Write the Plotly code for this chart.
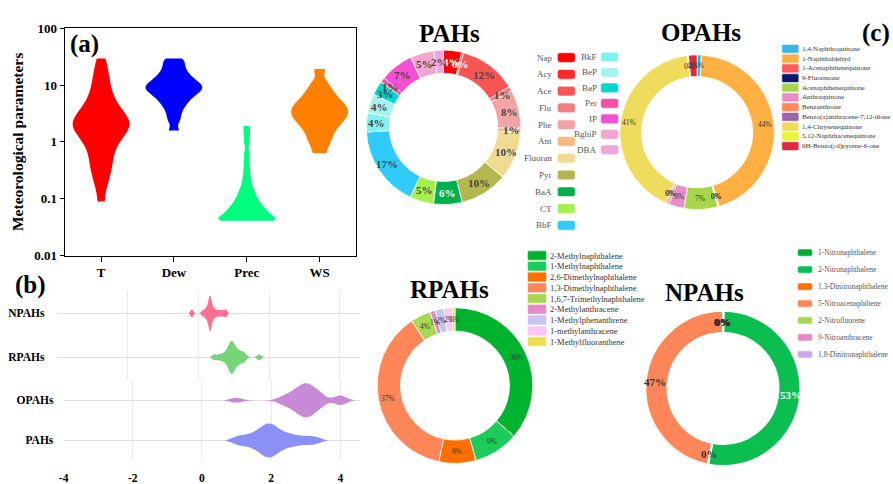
import math
import plotly.graph_objects as go

W, H = 893, 484
SERIF = "Liberation Serif, Times New Roman, serif"


def fx(x):
    return x / W


def fy(y):
    return 1 - y / H


# ---------------- (a) meteorological parameters ----------------
met_params = ["T", "Dew", "Prec", "WS"]
met_colors = ["#ff0000", "#0000ff", "#00ff7f", "#ff8000"]
met_ticks = [0.01, 0.1, 1, 10, 100]
t_values = [0.089, 0.151, 0.209, 0.269, 0.331, 0.398, 0.479, 0.575, 0.676, 0.794, 0.912,
            1.02, 1.15, 1.26, 1.38, 1.51, 1.62, 1.74, 1.86, 2.0, 2.14, 2.29, 2.45, 2.63, 2.82,
            3.09, 3.39, 3.72, 4.17, 4.68, 5.37, 6.31, 7.59, 9.33, 11.7, 15.1, 20.0, 29.5]
dew_values = [1.58, 2.4, 3.16, 3.98, 4.68, 5.37, 6.03, 6.61, 7.24, 7.76, 8.32, 8.91, 9.33,
              10.0, 10.7, 11.5, 12.6, 13.8, 15.5, 17.8, 20.9, 25.1, 29.5]
prec_values = [0.041, 0.041, 0.041, 0.041, 0.041, 0.041, 0.0417, 0.0437, 0.0457, 0.0479,
               0.0501, 0.0525, 0.055, 0.0575, 0.0603, 0.0631, 0.0661, 0.0692, 0.0741, 0.0794,
               0.0851, 0.0912, 0.1, 0.11, 0.123, 0.138, 0.158, 0.191, 0.24, 0.316, 0.437,
               0.631, 1.0, 1.41, 1.9]
ws_values = [0.63, 0.89, 1.12, 1.38, 1.66, 1.91, 2.19, 2.45, 2.69, 2.95, 3.24, 3.55, 3.89,
             4.27, 4.68, 5.25, 6.03, 7.08, 8.51, 11.2, 19.1]
met_bandwidth = [0.13, 0.07, 0.07, 0.09]  # kernel width in decades

# ---------------- (b) log concentrations by group ----------------
group_names = ["NPAHs", "RPAHs", "OPAHs", "PAHs"]
group_colors = ["#ff7090", "#78d478", "#c68ad6", "#8a90f6"]
npahs_log = [-0.2, -0.16, 0.12, 0.18, 0.22, 0.25, 0.28, 0.3, 0.31, 0.32, 0.33, 0.33, 0.34,
             0.35, 0.36, 0.38, 0.4, 0.43, 0.47, 0.52, 0.58, 0.64, 0.7, 0.76, 0.8]
rpahs_log = [0.45, 0.6, 0.72, 0.8, 0.85, 0.88, 0.91, 0.93, 0.95, 0.97, 1.0, 1.03, 1.07, 1.12,
             1.18, 1.25, 1.32, 1.72]
opahs_log = [1.0, 2.3, 2.5, 2.62, 2.72, 2.8, 2.87, 2.93, 2.98, 3.02, 3.07, 3.13, 3.2, 3.28,
             3.37, 3.48, 3.95, 4.05]
pahs_log = [1.0, 1.2, 1.4, 1.55, 1.65, 1.75, 1.82, 1.88, 1.93, 1.98, 2.05, 2.12, 2.2, 2.3,
            2.45, 2.6, 2.8, 3.05, 3.3]
group_bandwidth = [0.035, 0.06, 0.17, 0.16]
group_ticks = [-4, -2, 0, 2, 4]

# ---------------- (c) composition of each group (%) ----------------
pahs_labels = ["Nap", "Acy", "Ace", "Flu", "Phe", "Ant", "Fluoran", "Pyr", "BaA", "CT", "BbF",
               "BkF", "BeP", "BaP", "Per", "IP", "BghiP", "DBA"]
pahs_share = [3.8, 0.4, 12, 1, 8, 1, 10, 10, 6, 5, 17, 4, 4, 3, 1, 7, 5, 2]
pahs_colors = ["#ff0000", "#ff2b2b", "#fa5555", "#f47f7f", "#f2a4a4", "#f4ba82", "#efdc92",
               "#b3b74f", "#00b050", "#a6f04e", "#2fcbfa", "#80f2f2", "#a6f2ee", "#00d6ce",
               "#f54fa8", "#f54fd6", "#f2a6cf", "#f0a6dc"]

opahs_labels = ["1,4-Naphthoquinone", "1-Naphthaldehyd", "1-Acenaphthenequinone", "9-Fluorenone",
                "Acenaphthenequinone", "Anthraquinone", "Benzanthrone",
                "Benzo(a)anthracene-7,12-dione", "1,4-Chrysenequinone",
                "5,12-Naphthacenequinone", "6H-Benzo(cd)pyrene-6-one"]
opahs_share = [0.9, 44.2, 0.2, 0.1, 7.0, 3.2, 0.45, 0.3, 41.0, 0.2, 1.8]
opahs_colors = ["#3db5e6", "#ffb043", "#ff5b5b", "#0b1a6e", "#a7d64b", "#e58fc6", "#ff8a5c",
                "#9a66a8", "#efdb5c", "#e6f52e", "#e0293f"]

rpahs_labels = ["2-Methylnaphthalene", "1-Methylnaphthalene", "2,6-Dimethylnaphthalene",
                "1,3-Dimethylnaphthalene", "1,6,7-Trimethylnaphthalene", "2-Methylanthracene",
                "1-Methylphenanthrene", "1-methylanthracene", "1-Methylfluoranthene"]
rpahs_share = [36.3, 9.4, 7.7, 37.3, 4.2, 1.1, 1.8, 1.7, 0.6]
rpahs_colors = ["#00b32f", "#1ccc5b", "#ff7000", "#ff8658", "#a8d852", "#e38bc8", "#c5c5ef",
                "#ffc4f8", "#eedf52"]

npahs_labels = ["1-Nitronaphthalene", "2-Nitronaphthalene", "1,3-Dinitronaphthalene",
                "5-Nitroacenaphthene", "2-Nitrofluorene", "9-Nitroanthracene",
                "1,8-Dinitronaphthalene"]
npahs_share = [0.2, 52.8, 0.2, 46.8, 0, 0, 0]
npahs_colors = ["#00ab33", "#0abf50", "#ff7000", "#ff8658", "#a8d852", "#e38bc8", "#c6a9ef"]

fig = go.Figure()

# violins of panel (a): kernel density estimated on log10 of the values
for name, vals, col, bw in zip(met_params, [t_values, dew_values, prec_values, ws_values],
                               met_colors, met_bandwidth):
    fig.add_trace(go.Violin(
        x=[name] * len(vals), y=[math.log10(v) for v in vals], orientation="v",
        xaxis="x", yaxis="y",
        line=dict(color=col, width=0), fillcolor=col, width=0.78, scalemode="width",
        spanmode="hard", bandwidth=bw, points=False, box_visible=False,
        meanline_visible=False, showlegend=False, hoverinfo="skip"))

# horizontal violins of panel (b)
group_samples = [npahs_log, rpahs_log, opahs_log, pahs_log]
group_width = [0.81, 0.75, 0.85, 0.85]
group_axes = [("x2", "y2"), ("x2", "y2"), ("x3", "y3"), ("x3", "y3")]
for name, vals, col, bw, wd, (xa, ya) in zip(group_names, group_samples, group_colors,
                                            group_bandwidth, group_width, group_axes):
    fig.add_trace(go.Violin(
        y=[name] * len(vals), x=vals, orientation="h", xaxis=xa, yaxis=ya,
        line=dict(color=col, width=0), fillcolor=col, width=wd, scalemode="width",
        spanmode="soft", bandwidth=bw, points=False, box_visible=False,
        meanline_visible=False, showlegend=False, hoverinfo="skip"))


def donut_domain(cx, cy, r):
    return dict(x=[fx(cx - r), fx(cx + r)], y=[fy(cy + r), fy(cy - r)])


# donut geometry (pixel centre, radius, hole)
PAH_RING = (441, 124.5, 80, 0.7)
OPAH_RING = (696, 129.5, 80, 0.72)
RPAH_RING = (452.5, 391.5, 80.5, 0.7)
NPAH_RING = (722, 394.5, 80, 0.72)

for labels, share, colors, ring, edge in [
        (pahs_labels, pahs_share, pahs_colors, PAH_RING, 0.8),
        (opahs_labels, opahs_share, opahs_colors, OPAH_RING, 0.8),
        (rpahs_labels, rpahs_share, rpahs_colors, RPAH_RING, 0.8),
        (npahs_labels, npahs_share, npahs_colors, NPAH_RING, 1.5)]:
    fig.add_trace(go.Pie(
        labels=labels, values=share,
        marker=dict(colors=colors, line=dict(color="white", width=edge)),
        hole=ring[3], domain=donut_domain(*ring[:3]), sort=False, direction="clockwise",
        textinfo="none", showlegend=False, hoverinfo="skip"))

annotations = []
shapes = []


def contrast(hex_color):
    r, g, b = (int(hex_color[i:i + 2], 16) for i in (1, 3, 5))
    return "white" if (r * 299 + g * 587 + b * 114) / 1000 < 128 else "#444"


def ring_labels(values, ring, size, colors, weight="normal"):
    """Percent label at the middle of each slice, halfway across the ring."""
    cx, cy, r, hole = ring
    total = sum(values)
    rm = r * (1 + hole) / 2
    cum = 0.0
    for v, col in zip(values, colors):
        mid = 2 * math.pi * (cum + v / 2) / total
        cum += v
        pct = int(100 * v / total + 0.5)
        annotations.append(dict(
            x=fx(cx + rm * math.sin(mid)), y=fy(cy - rm * math.cos(mid)),
            xref="paper", yref="paper", text=f"{pct}%", showarrow=False,
            xanchor="center", yanchor="middle",
            font=dict(family=SERIF, size=size, color=col, weight=weight)))


ring_labels(pahs_share, PAH_RING, 11, [contrast(c) for c in pahs_colors], "bold")
ring_labels(opahs_share, OPAH_RING, 7.5, ["#333"] * len(opahs_share))
ring_labels(rpahs_share, RPAH_RING, 7.5, ["#333"] * len(rpahs_share))
ring_labels(npahs_share, NPAH_RING, 11,
            ["#333", "white", "#333", "#333", "#333", "#333", "#333"], "bold")


def swatch(x0, yc, w, h, r, color, edge="rgba(255,255,255,0.9)"):
    y0, y1 = yc - h / 2, yc + h / 2
    x1 = x0 + w
    p = (f"M {fx(x0 + r)},{fy(y0)} L {fx(x1 - r)},{fy(y0)} Q {fx(x1)},{fy(y0)} {fx(x1)},{fy(y0 + r)} "
         f"L {fx(x1)},{fy(y1 - r)} Q {fx(x1)},{fy(y1)} {fx(x1 - r)},{fy(y1)} "
         f"L {fx(x0 + r)},{fy(y1)} Q {fx(x0)},{fy(y1)} {fx(x0)},{fy(y1 - r)} "
         f"L {fx(x0)},{fy(y0 + r)} Q {fx(x0)},{fy(y0)} {fx(x0 + r)},{fy(y0)} Z")
    shapes.append(dict(type="path", xref="paper", yref="paper", path=p, fillcolor=color,
                       line=dict(color=edge, width=0.6), layer="above"))


def legend_text(x, yc, text, size, color, anchor):
    annotations.append(dict(x=fx(x), y=fy(yc), xref="paper", yref="paper", text=text,
                            showarrow=False, xanchor=anchor, yanchor="middle",
                            font=dict(family=SERIF, size=size, color=color)))


# PAHs legend: two columns, label to the left of the swatch
for i, (lab, col) in enumerate(zip(pahs_labels[:11], pahs_colors[:11])):
    yc = 52.3 + i * 17.35
    swatch(555.5, yc, 18, 10, 2.5, col)
    legend_text(552.5, yc, lab, 9, "#555", "right")
for i, (lab, col) in enumerate(zip(pahs_labels[11:], pahs_colors[11:])):
    yc = 51.7 + i * 16.0
    swatch(599, yc, 18, 10, 2.5, col)
    legend_text(597, yc, lab, 9, "#555", "right")

# OPAHs legend
for i, (lab, col) in enumerate(zip(opahs_labels, opahs_colors)):
    yc = 43.3 + i * 10.05
    swatch(781.7, yc, 16, 8, 0.5, col, edge=col)
    legend_text(799.5, yc, lab, 7, "#333", "left")

# RPAHs legend
for i, (lab, col) in enumerate(zip(rpahs_labels, rpahs_colors)):
    yc = 257 + i * 11.12
    swatch(526, yc, 18, 9, 0.5, col, edge=col)
    legend_text(546.5, yc, lab, 8.5, "#333", "left")

# NPAHs legend
for i, (lab, col) in enumerate(zip(npahs_labels, npahs_colors)):
    yc = 254 + i * 17.55
    swatch(797, yc, 15, 7.5, 2, col)
    legend_text(815.5, yc, lab, 7.5, "#555", "left")

# donut titles and panel tags
for text, x, y in [("PAHs", 447.5, 27), ("OPAHs", 699.5, 26), ("RPAHs", 447.5, 292),
                   ("NPAHs", 703, 295), ("(a)", 80, 38), ("(b)", 26, 288), ("(c)", 876, 27)]:
    annotations.append(dict(x=fx(x), y=fy(y), xref="paper", yref="paper", text=text,
                            showarrow=False, xanchor="center", yanchor="middle",
                            font=dict(family=SERIF, size=25, color="black", weight="bold")))

bold13 = dict(family=SERIF, size=13, color="black", weight="bold")
bold11 = dict(family=SERIF, size=11.5, color="black", weight="bold")
GRID_V = "#e6e9f2"
GRID_H = "#dedee4"
CLEAR = "rgba(0,0,0,0)"

fig.update_layout(
    width=W, height=H, margin=dict(l=0, r=0, t=0, b=0),
    paper_bgcolor="white", plot_bgcolor="white",
    font=dict(family=SERIF, color="black"),
    violinmode="overlay", violingap=0, violingroupgap=0,
    xaxis=dict(domain=[fx(60), fx(353)], anchor="y", type="category",
               categoryorder="array", categoryarray=met_params, range=[-0.5, 3.5],
               showline=True, mirror=True, linecolor="black", linewidth=1,
               ticks="outside", ticklen=5, tickcolor="black", tickfont=bold13,
               showgrid=False, zeroline=False),
    yaxis=dict(domain=[fy(257), fy(22)], anchor="x", range=[-2, 2],
               tickvals=[math.log10(t) for t in met_ticks],
               ticktext=[f"{t:g}" for t in met_ticks],
               showline=True, mirror=True, linecolor="black", linewidth=1,
               ticks="outside", ticklen=4, tickcolor="black", tickfont=bold13,
               showgrid=False, zeroline=False,
               title=dict(text="Meteorological parameters", standoff=6,
                          font=dict(family=SERIF, size=15.5, color="black", weight="bold"))),
    xaxis2=dict(domain=[fx(52), fx(357)], anchor="y2", range=[-4, 4.57],
                tickvals=group_ticks, showticklabels=False, ticks="", showgrid=True,
                gridcolor=GRID_V, zeroline=False, showline=False),
    yaxis2=dict(domain=[fy(385), fy(294)], anchor="x2", type="category",
                categoryorder="array", categoryarray=["RPAHs", "NPAHs"], range=[-0.5, 1.5],
                showgrid=True, gridcolor=GRID_H, ticks="outside", ticklen=9, tickcolor=CLEAR,
                tickfont=bold11, zeroline=False, showline=False),
    xaxis3=dict(domain=[fx(59), fx(357)], anchor="y3", range=[-4, 4.57],
                tickvals=group_ticks, ticktext=[str(t) for t in group_ticks],
                ticks="outside", ticklen=7, tickcolor=CLEAR, tickfont=bold11,
                showgrid=True, gridcolor=GRID_V, zeroline=False, showline=False),
    yaxis3=dict(domain=[fy(469), fy(386)], anchor="x3", type="category",
                categoryorder="array", categoryarray=["PAHs", "OPAHs"], range=[-0.5, 1.5],
                showgrid=True, gridcolor=GRID_H, ticks="outside", ticklen=7, tickcolor=CLEAR,
                tickfont=bold11, zeroline=False, showline=False),
    annotations=annotations,
    shapes=shapes,
)

fig.write_html("out.html")
